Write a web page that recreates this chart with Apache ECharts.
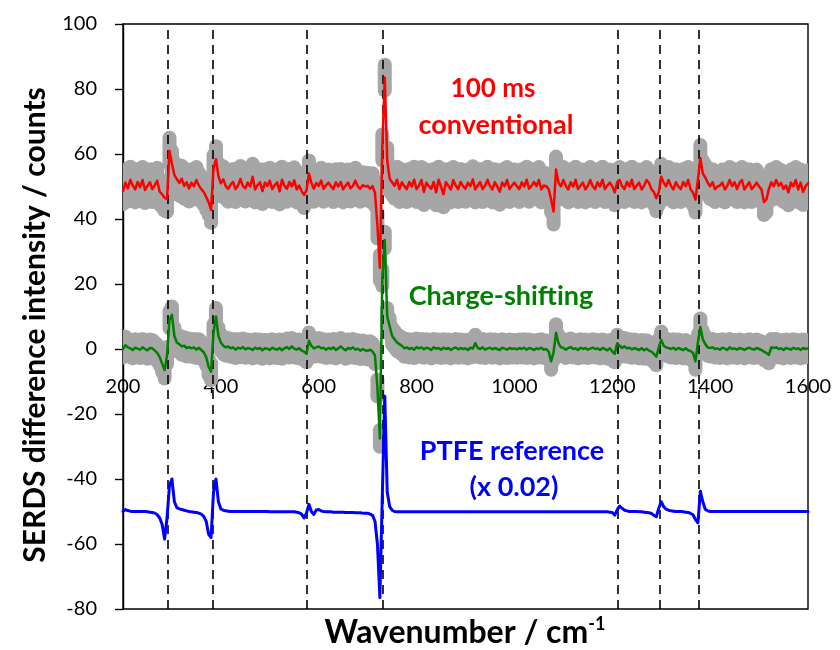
<!DOCTYPE html>
<html>
<head>
<meta charset="utf-8">
<title>SERDS difference spectra</title>
<script src="https://cdn.jsdelivr.net/npm/echarts@6/dist/echarts.min.js"></script>
<style>
  html, body { margin: 0; padding: 0; background: #fff; }
  #chart { width: 840px; height: 650px; }
</style>
</head>
<body>
<div id="chart"></div>
<script>
// Spectral sampling of all three traces (cm^-1)
const wavenumberStart = 200;
const wavenumberStep = 5;

// PTFE band positions marked with dashed guides (cm^-1)
const ptfeBands = [292, 383, 575, 731, 1211, 1297, 1377];

// Axis ranges and tick spacing
const xRange = [200, 1600];
const xTickStep = 200;
const yRange = [-80, 100];
const yTickStep = 20;

// 100 ms conventional SERDS difference spectrum (offset +50 counts)
const conventional = [
  48.6, 51.2, 49.4, 52.1, 50.3, 49.1, 51.4, 49.8, 52.0, 48.9, 50.2, 51.3, 49.2, 50.4, 51.8, 48.4, 47.6, 46.5, 46.2, 61.0,
  57.0, 53.6, 52.3, 51.1, 52.4, 50.2, 51.3, 49.4, 51.2, 50.1, 52.0, 50.3, 49.2, 48.3, 46.8, 45.2, 42.8, 55.6, 58.4, 53.2,
  51.0, 52.2, 50.1, 49.3, 50.6, 51.4, 49.2, 50.3, 52.3, 50.1, 49.4, 51.2, 50.0, 53.0, 49.1, 50.4, 51.3, 48.6, 51.2, 50.2,
  51.8, 49.2, 50.4, 51.3, 48.5, 52.1, 50.2, 49.3, 51.4, 50.0, 51.9, 49.1, 50.3, 48.6, 47.4, 48.8, 54.0, 51.2, 49.3, 51.1,
  50.2, 51.8, 49.3, 50.4, 51.2, 50.1, 49.2, 51.3, 50.0, 51.4, 49.1, 50.3, 51.2, 49.4, 50.2, 51.8, 50.0, 49.3, 50.4, 50.0,
  50.2, 49.3, 50.1, 48.0, 38.0, 25.0, 62.0, 83.5, 58.0, 52.4, 51.3, 50.2, 52.1, 49.2, 51.3, 50.1, 49.2, 51.4, 50.0, 52.1,
  49.2, 50.3, 52.0, 48.3, 51.2, 50.1, 49.3, 51.4, 48.2, 52.1, 50.0, 47.6, 51.3, 50.2, 49.1, 52.0, 50.3, 49.2, 51.4, 50.1,
  49.3, 51.2, 50.1, 52.2, 49.1, 50.3, 51.4, 49.2, 50.3, 52.1, 50.2, 49.1, 51.3, 50.0, 48.4, 51.2, 50.1, 52.0, 49.2, 50.3,
  51.2, 50.1, 49.2, 51.3, 50.0, 52.1, 49.3, 50.2, 51.4, 50.1, 52.0, 49.1, 50.3, 50.1, 49.2, 46.0, 42.3, 55.2, 51.2, 50.1,
  52.0, 50.2, 49.1, 51.3, 50.0, 52.1, 49.2, 50.3, 51.2, 49.1, 50.2, 52.0, 50.1, 49.2, 51.3, 50.0, 52.1, 49.2, 50.3, 51.2,
  50.1, 48.2, 51.3, 52.0, 50.1, 49.2, 51.4, 50.0, 52.1, 49.2, 50.3, 51.2, 49.1, 50.2, 52.0, 51.1, 49.2, 48.3, 46.4, 48.2,
  53.0, 51.2, 50.1, 52.0, 50.2, 49.1, 51.3, 50.0, 49.2, 51.4, 50.1, 52.0, 49.2, 48.1, 46.0, 52.0, 58.8, 54.0, 52.8, 51.2,
  50.1, 51.3, 49.2, 50.0, 50.3, 51.2, 49.1, 50.2, 52.0, 50.1, 51.3, 49.2, 51.1, 52.0, 49.1, 50.2, 51.3, 49.2, 50.1, 51.2,
  50.0, 49.1, 45.2, 46.0, 49.2, 51.3, 50.1, 52.0, 50.2, 51.1, 49.2, 50.3, 48.2, 51.2, 50.1, 52.0, 49.1, 51.2, 48.3, 50.1,
  51.0
];

// Charge-shifting SERDS difference spectrum (no offset)
const chargeShifting = [
  0.0, 1.2, 0.5, 0.2, -0.3, 0.4, 0.1, -0.2, 0.5, 0.0, -0.4, 0.3, 0.2, -0.5, -1.2, -2.5, -4.5, -6.5, -2.0, 9.0,
  10.5, 4.0, 2.0, 1.5, 0.8, 1.0, 0.3, 0.6, 0.2, 0.5, -0.2, 0.4, -0.3, -1.0, -2.5, -5.5, -7.0, 5.0, 10.0, 4.0,
  2.0, 1.0, 0.5, 0.8, 0.2, 0.5, -0.2, 0.4, 0.1, 0.6, -0.1, 0.3, 0.1, -0.3, 0.4, 0.0, 0.3, -0.4, 0.2, 0.1,
  -0.3, 0.4, 0.0, -0.2, 0.3, -0.4, 0.2, 0.6, 0.0, 0.8, 0.1, -0.2, 0.3, -0.5, -0.8, -1.5, 2.5, 1.0, 0.2, 0.5,
  0.8, 0.2, 0.4, -0.2, 0.3, 0.0, 0.5, -0.3, 0.2, 0.8, 0.1, -0.4, 0.3, 0.0, 0.5, -0.2, 0.1, -0.5, 0.0, -0.4,
  -0.6, -0.2, -0.8, -2.0, -12.0, -27.5, 22.0, 33.5, 10.0, 7.0, 4.0, 3.0, 2.0, 1.5, 1.0, 0.2, 0.5, 0.0, 0.3, -0.2,
  0.6, 0.2, 0.5, -0.1, 0.4, 0.2, -0.3, 0.5, 0.1, 0.3, -0.2, 0.4, 0.0, 0.3, -0.3, 0.2, 0.5, -0.1, 0.3, 0.0,
  0.2, -0.3, 0.4, 0.1, 1.8, 0.3, 0.0, 0.5, -0.2, 0.2, 0.4, -0.1, 0.3, 0.0, -0.3, 0.4, 0.1, -0.2, 0.3, 0.0,
  0.2, -0.1, 0.3, 0.0, 0.4, -0.2, 0.3, 0.1, -0.3, 0.2, 0.0, 0.4, -0.2, 0.0, -0.8, -3.8, -1.0, 5.0, 1.8, 0.5,
  0.4, -0.2, 0.3, 0.6, 0.0, 0.2, -0.3, 0.4, 0.0, 0.3, -0.2, 0.1, 0.4, 0.0, 0.2, -0.3, 0.3, 0.0, -0.4, 0.2,
  -0.8, -1.5, 1.8, 1.0, 0.3, 0.8, 0.2, 0.4, -0.1, 0.3, 0.0, -0.3, 0.2, -0.4, 0.1, -0.5, -0.8, -1.5, -2.4, 0.5,
  2.8, 1.0, 0.5, 0.3, 0.0, 0.4, -0.2, 0.3, 0.0, -0.3, 0.2, -0.4, -0.6, -1.2, -3.8, 2.0, 6.8, 3.0, 1.5, 0.5,
  0.3, 0.5, 0.0, 0.2, -0.2, 0.4, 0.1, -0.3, 0.5, 0.0, 0.2, -0.2, 0.3, 0.1, -0.3, 0.2, 0.4, 0.0, -0.2, 0.3,
  0.0, -0.3, -0.8, -1.2, -1.8, 0.5, 0.3, 0.5, 0.0, 0.2, -0.3, 0.3, 0.1, -0.2, 0.4, 0.0, 0.2, -0.3, 0.3, 0.0,
  0.2
];

// PTFE reference SERDS difference spectrum, scaled x 0.02 (offset -50 counts)
const ptfeReference = [
  -50.0, -49.4, -49.7, -49.9, -50.0, -50.0, -50.0, -50.0, -50.0, -50.0, -50.1, -50.2, -50.3, -50.5, -51.0, -52.0, -54.0, -58.5, -52.0, -42.0,
  -40.0, -47.0, -48.8, -49.2, -49.4, -49.6, -49.8, -50.0, -50.1, -50.2, -50.3, -50.5, -50.8, -51.5, -53.0, -57.0, -58.0, -44.0, -40.0, -47.0,
  -49.2, -49.6, -49.8, -49.9, -50.0, -50.0, -50.0, -50.0, -50.0, -50.0, -50.0, -50.0, -50.0, -50.0, -50.0, -50.0, -50.0, -50.0, -50.0, -50.0,
  -50.1, -50.1, -50.1, -50.1, -50.1, -50.1, -50.1, -50.1, -50.1, -50.1, -50.1, -50.2, -50.4, -50.8, -52.0, -50.5, -47.8, -50.0, -50.9, -49.5,
  -49.4, -49.8, -50.0, -50.1, -50.1, -50.1, -50.2, -50.2, -50.2, -50.2, -50.2, -50.3, -50.3, -50.3, -50.3, -50.4, -50.4, -50.4, -50.5, -50.5,
  -50.5, -50.8, -51.2, -53.0, -60.0, -76.5, -45.0, -14.5, -44.0, -48.5, -49.6, -50.0, -50.1, -50.1, -50.1, -50.1, -50.1, -50.1, -50.1, -50.1,
  -50.1, -50.1, -50.1, -50.1, -50.1, -50.1, -50.1, -50.1, -50.1, -50.1, -50.1, -50.1, -50.1, -50.1, -50.1, -50.1, -50.1, -50.1, -50.1, -50.1,
  -50.1, -50.1, -50.1, -50.1, -50.1, -50.1, -50.1, -50.1, -50.1, -50.1, -50.1, -50.1, -50.1, -50.1, -50.1, -50.1, -50.1, -50.1, -50.1, -50.1,
  -50.1, -50.1, -50.1, -50.1, -50.1, -50.1, -50.1, -50.1, -50.1, -50.1, -50.1, -50.1, -50.1, -50.1, -50.1, -50.1, -50.1, -50.1, -50.1, -50.1,
  -50.1, -50.1, -50.1, -50.1, -50.1, -50.1, -50.1, -50.1, -50.1, -50.1, -50.1, -50.1, -50.1, -50.1, -50.1, -50.1, -50.1, -50.1, -50.1, -50.2,
  -50.3, -51.1, -49.5, -48.3, -49.0, -49.6, -49.8, -50.0, -50.0, -50.0, -50.0, -50.1, -50.1, -50.2, -50.3, -50.4, -50.6, -51.2, -51.6, -49.0,
  -47.0, -48.5, -49.3, -49.6, -49.8, -49.9, -50.0, -50.0, -50.0, -50.1, -50.2, -50.3, -50.6, -51.0, -52.5, -53.5, -43.8, -47.0, -49.3, -49.8,
  -50.0, -50.0, -50.0, -50.0, -50.0, -50.0, -50.0, -50.0, -50.0, -50.0, -50.0, -50.0, -50.0, -50.0, -50.0, -50.0, -50.0, -50.0, -50.0, -50.0,
  -50.0, -50.0, -50.0, -50.0, -50.0, -50.0, -50.0, -50.0, -50.0, -50.0, -50.0, -50.0, -50.0, -50.0, -50.0, -50.0, -50.0, -50.0, -50.0, -50.0,
  -50.0
];

// Uncertainty (half-length of the grey error bars), counts
const conventionalError = 4.0;
const chargeShiftingError = 2.6;

const FONT = 'Lato, "Open Sans", sans-serif';

// Plot frame in pixels
const GRID = { left: 123, right: 32, top: 24, bottom: 41 };
const CHART_H = 650;

const wavenumbers = conventional.map((_, i) => wavenumberStart + wavenumberStep * i);
const toPairs = values => values.map((v, i) => [wavenumbers[i], v]);

function errorBars(values, err) {
  return {
    type: 'custom',
    silent: true,
    clip: true,
    z: 1,
    data: values.map((v, i) => [wavenumbers[i], v - err, v + err]),
    encode: { x: 0, y: [1, 2] },
    renderItem: (params, api) => {
      const lo = api.coord([api.value(0), api.value(1)]);
      const hi = api.coord([api.value(0), api.value(2)]);
      return {
        type: 'line',
        shape: { x1: lo[0], y1: lo[1], x2: hi[0], y2: hi[1] },
        style: { stroke: '#a6a6a6', lineWidth: 14, lineCap: 'round' }
      };
    }
  };
}

function trace(values, color, width, z) {
  return {
    type: 'line',
    data: toPairs(values),
    showSymbol: false,
    silent: true,
    z: z,
    lineStyle: { color: color, width: width, join: 'round', cap: 'round' }
  };
}

// The wavenumber labels sit on the y = 0 line: shift the bottom axis up to it
const plotH = CHART_H - GRID.top - GRID.bottom;
const zeroOffset = -plotH * (0 - yRange[0]) / (yRange[1] - yRange[0]);

const chart = echarts.init(document.getElementById('chart'), null, { renderer: 'canvas' });

const guideSeries = {
  type: 'line',
  data: [],
  silent: true,
  z: 2,
  markLine: {
    silent: true,
    z: 2,
    symbol: ['none', 'none'],
    label: { show: false },
    lineStyle: { color: '#000', width: 1.6, type: [9, 6] },
    data: ptfeBands.map(b => ({ xAxis: b }))
  }
};

chart.setOption({
  animation: false,
  backgroundColor: '#fff',
  grid: Object.assign({ show: true, borderColor: '#000', borderWidth: 1.4, backgroundColor: 'transparent' }, GRID),
  xAxis: {
    type: 'value',
    position: 'bottom',
    offset: zeroOffset,
    min: xRange[0], max: xRange[1], interval: xTickStep,
    axisLine: { show: false, onZero: false },
    axisTick: { show: false },
    splitLine: { show: false },
    axisLabel: {
      color: '#000', fontSize: 20, fontFamily: FONT, margin: 28,
      showMinLabel: true, showMaxLabel: true,
      formatter: v => String(v)
    }
  },
  yAxis: {
    type: 'value',
    min: yRange[0], max: yRange[1], interval: yTickStep,
    axisLine: { show: true, lineStyle: { color: '#000', width: 1.4 } },
    axisTick: { show: true, length: 8, lineStyle: { color: '#000', width: 1.4 } },
    splitLine: { show: false },
    axisLabel: { color: '#000', fontSize: 20, fontFamily: FONT, margin: 26, formatter: v => String(v) }
  },
  series: [
    errorBars(conventional, conventionalError),
    errorBars(chargeShifting, chargeShiftingError),
    guideSeries,
    trace(conventional, '#ff0000', 2.5, 3),
    trace(chargeShifting, '#008000', 2.5, 3),
    trace(ptfeReference, '#0000ff', 3, 4)
  ],
  graphic: [
    { type: 'text', z: 10, style: { text: '100 ms', x: 493, y: 89, align: 'center', verticalAlign: 'middle', font: 'bold 26px ' + FONT, fill: '#ff0000' } },
    { type: 'text', z: 10, style: { text: 'conventional', x: 496, y: 125, align: 'center', verticalAlign: 'middle', font: 'bold 27px ' + FONT, fill: '#ff0000' } },
    { type: 'text', z: 10, style: { text: 'Charge-shifting', x: 501, y: 296, align: 'center', verticalAlign: 'middle', font: 'bold 27px ' + FONT, fill: '#008000' } },
    { type: 'text', z: 10, style: { text: 'PTFE reference', x: 512, y: 451, align: 'center', verticalAlign: 'middle', font: 'bold 27px ' + FONT, fill: '#0000ff' } },
    { type: 'text', z: 10, style: { text: '(x 0.02)', x: 514, y: 487, align: 'center', verticalAlign: 'middle', font: 'bold 27px ' + FONT, fill: '#0000ff' } },
    {
      type: 'text', z: 10,
      x: 35, y: 325, rotation: Math.PI / 2,
      style: {
        text: 'SERDS difference intensity / counts',
        x: 0, y: 0, align: 'center', verticalAlign: 'middle',
        font: 'bold 30px ' + FONT, fill: '#000'
      }
    },
    {
      type: 'text', z: 10,
      style: {
        text: '{t|Wavenumber / cm}{s|-1}',
        x: 465, y: 632, align: 'center', verticalAlign: 'middle',
        rich: {
          t: { fontSize: 32, fontWeight: 'bold', fontFamily: FONT, fill: '#000', lineHeight: 34, verticalAlign: 'bottom' },
          s: { fontSize: 18, fontWeight: 'bold', fontFamily: FONT, fill: '#000', lineHeight: 34, verticalAlign: 'top' }
        }
      }
    }
  ]
});
</script>
</body>
</html>
